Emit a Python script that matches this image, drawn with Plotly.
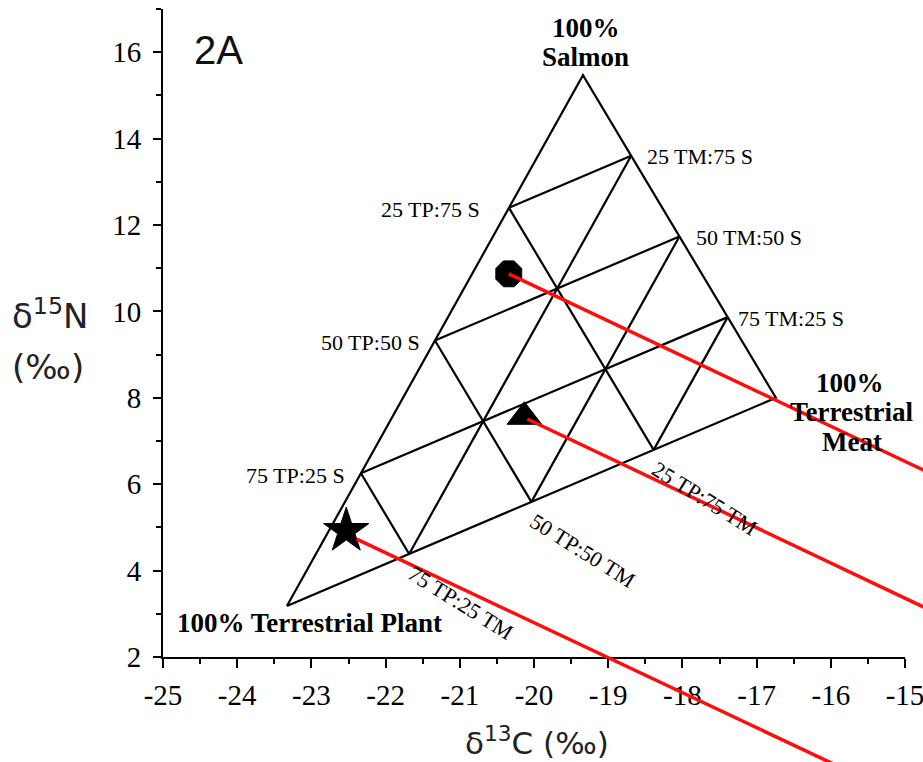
import plotly.graph_objects as go

# ---------------- data ----------------
plant_label_lines = ["100% Terrestrial Plant"]
salmon_label_lines = ["100%", "Salmon"]
meat_label_lines = ["100%", "Terrestrial", "Meat"]
vertex_x = [-23.33, -19.34, -16.74]   # Plant, Salmon, Meat
vertex_y = [3.18, 15.47, 8.00]
grid_fractions = [0.25, 0.5, 0.75]

left_edge_labels = ["75 TP:25 S", "50 TP:50 S", "25 TP:75 S"]
right_edge_labels = ["75 TM:25 S", "50 TM:50 S", "25 TM:75 S"]
bottom_edge_labels = ["75 TP:25 TM", "50 TP:50 TM", "25 TP:75 TM"]

sample_symbols = ["octagon", "triangle-up", "star"]
sample_x = [-20.34, -20.13, -22.53]
sample_y = [10.87, 7.56, 4.92]

line_start_x = [-20.34, -20.09, -22.39]
line_start_y = [10.87, 7.51, 4.73]
line_end_x = [-14.3, -14.3, -15.6]
line_end_y = [5.96, 2.79, -0.77]

x_range = [-25, -15]
y_range = [2, 17]
x_tick_vals = [-25, -24, -23, -22, -21, -20, -19, -18, -17, -16, -15]
x_tick_text = ["-25", "-24", "-23", "-22", "-21", "-20", "-19", "-18", "-17", "-16", "-15"]
y_tick_vals = [2, 4, 6, 8, 10, 12, 14, 16]
y_tick_text = ["2", "4", "6", "8", "10", "12", "14", "16"]

# ---------------- layout geometry ----------------
W, H = 923, 762
dom_x = [163 / W, 905 / W]
dom_y = [105 / H, 753 / H]


def full_range(r, d):
    span = (r[1] - r[0]) / (d[1] - d[0])
    return [r[0] - d[0] * span, r[1] + (1 - d[1]) * span]


P = (vertex_x[0], vertex_y[0])
S = (vertex_x[1], vertex_y[1])
M = (vertex_x[2], vertex_y[2])


def lerp(a, b, f):
    return (a[0] + (b[0] - a[0]) * f, a[1] + (b[1] - a[1]) * f)


gx, gy = [], []
for a in (P, S, M, P):
    gx.append(a[0]); gy.append(a[1])
gx.append(None); gy.append(None)
for f in grid_fractions:
    segs = [
        (lerp(P, S, f), lerp(M, S, f)),   # parallel to bottom side
        (lerp(M, P, f), lerp(M, S, f)),   # parallel to left side
        (lerp(P, M, f), lerp(P, S, f)),   # parallel to right side
    ]
    for a, b in segs:
        gx += [a[0], b[0], None]
        gy += [a[1], b[1], None]

fig = go.Figure()
fig.add_trace(go.Scatter(x=gx, y=gy, mode="lines", line=dict(color="black", width=2.2),
                         hoverinfo="skip", showlegend=False))
fig.add_trace(go.Scatter(x=sample_x, y=sample_y, mode="markers", opacity=1,
                         marker=dict(symbol=sample_symbols, size=[28, 30, 34], color="#000000",
                                     opacity=1, line=dict(color="#000000", width=1)),
                         showlegend=False, cliponaxis=False))

for i in range(3):
    fig.add_trace(go.Scatter(x=[line_start_x[i], line_end_x[i]], y=[line_start_y[i], line_end_y[i]],
                             mode="lines", line=dict(color="#ff0d0d", width=3.5),
                             xaxis="x2", yaxis="y2", showlegend=False))

serif = "Liberation Serif"
sans = "DejaVu Sans"
small = dict(family=serif, size=22, color="black")
bold = dict(family=serif, size=27, color="black", weight="bold")

ann = []
left_shifts = [-14, -13, -27]
right_shifts = [8, 15, 14]
for i, f in enumerate(grid_fractions):
    p = lerp(P, S, f)
    ann.append(dict(x=p[0], y=p[1], xref="x", yref="y", text=left_edge_labels[i], showarrow=False,
                    xanchor="right", yanchor="middle", xshift=left_shifts[i], yshift=-2, font=small))
    q = lerp(M, S, f)
    ann.append(dict(x=q[0], y=q[1], xref="x", yref="y", text=right_edge_labels[i], showarrow=False,
                    xanchor="left", yanchor="middle", xshift=right_shifts[i], yshift=-1, font=small))
    b = lerp(P, M, f)
    ann.append(dict(x=b[0], y=b[1], xref="x", yref="y", text=bottom_edge_labels[i], showarrow=False,
                    xanchor="center", yanchor="middle", xshift=51, yshift=-49, textangle=32, font=small))

# vertex labels, one annotation per line
ann.append(dict(x=P[0], y=P[1], xref="x", yref="y", text=plant_label_lines[0], showarrow=False,
                xanchor="center", yanchor="middle", xshift=23, yshift=-17, font=bold))
salmon_offsets = [47, 18]
for t, dy in zip(salmon_label_lines, salmon_offsets):
    ann.append(dict(x=S[0], y=S[1], xref="x", yref="y", text=t, showarrow=False,
                    xanchor="center", yanchor="middle", xshift=3, yshift=dy, font=bold))
meat_offsets = [(74, 15), (76, -14), (76, -44)]
for t, (dx, dy) in zip(meat_label_lines, meat_offsets):
    ann.append(dict(x=M[0], y=M[1], xref="x", yref="y", text=t, showarrow=False,
                    xanchor="center", yanchor="middle", xshift=dx, yshift=dy, font=bold))

ann.append(dict(x=192 / W, y=1 - 50 / H, xref="paper", yref="paper", text="2A", showarrow=False,
                xanchor="left", yanchor="middle", font=dict(family="Liberation Sans", size=40, color="#111")))
ann.append(dict(x=537 / W, y=1 - 741 / H, xref="paper", yref="paper", text="δ<sup>13</sup>C (‰)",
                showarrow=False, xanchor="center", yanchor="middle",
                font=dict(family=sans, size=31, color="#222")))
ann.append(dict(x=10 / W, y=1 - 314 / H, xref="paper", yref="paper", text="δ<sup>15</sup>N",
                showarrow=False, xanchor="left", yanchor="middle",
                font=dict(family=sans, size=34, color="#222")))
ann.append(dict(x=10 / W, y=1 - 367 / H, xref="paper", yref="paper", text="(‰)",
                showarrow=False, xanchor="left", yanchor="middle",
                font=dict(family=sans, size=34, color="#222")))

axis_common = dict(showline=True, linecolor="black", linewidth=2, ticks="outside", tickcolor="black",
                   tickwidth=2, showgrid=False, zeroline=False, mirror=False,
                   ticklabeloverflow="allow",
                   tickfont=dict(family=serif, size=29, color="black"), automargin=False)

fig.update_layout(
    width=W, height=H,
    margin=dict(l=0, r=0, t=0, b=0),
    paper_bgcolor="white", plot_bgcolor="rgba(0,0,0,0)",
    showlegend=False,
    annotations=ann,
    xaxis=dict(domain=dom_x, range=x_range, tickmode="array", tickvals=x_tick_vals, ticktext=x_tick_text,
               ticklen=9, ticklabelstandoff=2,
               minor=dict(ticks="outside", tickmode="linear", tick0=-25, dtick=0.5, ticklen=5,
                          tickwidth=1.5, tickcolor="black"),
               anchor="y", **axis_common),
    yaxis=dict(domain=dom_y, range=y_range, tickmode="array", tickvals=y_tick_vals, ticktext=y_tick_text,
               ticklen=8, ticklabelstandoff=6,
               minor=dict(ticks="outside", tickmode="linear", tick0=2, dtick=1, ticklen=5,
                          tickwidth=1.5, tickcolor="black"),
               anchor="x", **axis_common),
    xaxis2=dict(domain=[0, 1], range=full_range(x_range, dom_x), visible=False, anchor="y2", fixedrange=True),
    yaxis2=dict(domain=[0, 1], range=full_range(y_range, dom_y), visible=False, anchor="x2", fixedrange=True),
)

fig.write_html("out.html", config={"displayModeBar": False},
               post_script="document.body.style.margin='0';document.body.style.overflow='hidden';")
